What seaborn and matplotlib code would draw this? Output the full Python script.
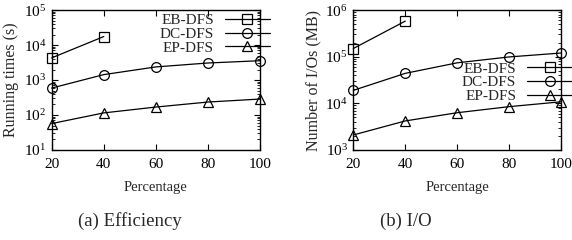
import matplotlib
matplotlib.use('Agg')
import matplotlib.pyplot as plt
import seaborn as sns
from matplotlib.ticker import LogLocator, NullFormatter

pct = [20, 40, 60, 80, 100]
pct_eb = [20, 40]

# running times (s)
time_eb = [4300, 17500]
time_dc = [590, 1430, 2370, 3070, 3570]
time_ep = [57, 115, 169, 235, 286]

# number of I/Os (MB)
io_eb = [150000, 580000]
io_dc = [19000, 44000, 74000, 99000, 120000]
io_ep = [2100, 4200, 6300, 8500, 10800]

sns.set_style('ticks')
plt.rcParams['font.family'] = ['Liberation Serif', 'DejaVu Serif']
plt.rcParams['mathtext.fontset'] = 'custom'
plt.rcParams['mathtext.rm'] = 'Liberation Serif'
plt.rcParams['font.size'] = 11

fig = plt.figure(figsize=(5.72, 2.4), dpi=100)
ax1 = fig.add_axes([0.0904, 0.375, 0.3641, 0.583])
ax2 = fig.add_axes([0.6177, 0.375, 0.3633, 0.583])

def draw(ax, eb, dc, ep, ylim, ylabel, anchor):
    style = dict(color='black', linewidth=0.9, markerfacecolor='none',
                 markeredgecolor='black', markeredgewidth=0.9, clip_on=False)
    sns.lineplot(x=pct_eb, y=eb, ax=ax, marker='s', markersize=6.5, label='EB-DFS', **style)
    sns.lineplot(x=pct, y=dc, ax=ax, marker='o', markersize=7, label='DC-DFS', **style)
    sns.lineplot(x=pct, y=ep, ax=ax, marker='^', markersize=7, label='EP-DFS', **style)
    ax.set_yscale('log')
    ax.set_xlim(20, 100)
    ax.set_ylim(*ylim)
    ax.set_xticks(pct)
    ax.yaxis.set_major_locator(LogLocator(base=10, numticks=10))
    ax.yaxis.set_minor_locator(LogLocator(base=10, subs=range(2, 10), numticks=10))
    ax.yaxis.set_minor_formatter(NullFormatter())
    ax.tick_params(which='both', direction='in', top=True, right=True,
                   colors='black', labelsize=11, pad=4)
    ax.tick_params(axis='x', pad=6)
    ax.tick_params(which='major', length=4, width=0.8)
    ax.tick_params(which='minor', length=2, width=0.6)
    for s in ax.spines.values():
        s.set_linewidth(1.0)
        s.set_color('black')
    ax.set_xlabel('Percentage', fontsize=10.5, labelpad=7)
    ax.set_ylabel(ylabel, fontsize=11.5, labelpad=3)
    ax.legend(loc='upper right', bbox_to_anchor=anchor, markerfirst=False,
              frameon=False, handlelength=3.0, handletextpad=0.7,
              labelspacing=0.0, borderpad=0, borderaxespad=0, fontsize=11)

draw(ax1, time_eb, time_dc, time_ep, (10, 1e5), 'Running times (s)', (1.05, 0.975))
draw(ax2, io_eb, io_dc, io_ep, (1e3, 1e6), 'Number of I/Os (MB)', (1.055, 0.63))

fig.text(130 / 572, 0.079, '(a) Efficiency', ha='center', va='center', fontsize=13.5)
fig.text(406 / 572, 0.079, '(b) I/O', ha='center', va='center', fontsize=13.5)

fig.savefig('out.png', dpi=100)
